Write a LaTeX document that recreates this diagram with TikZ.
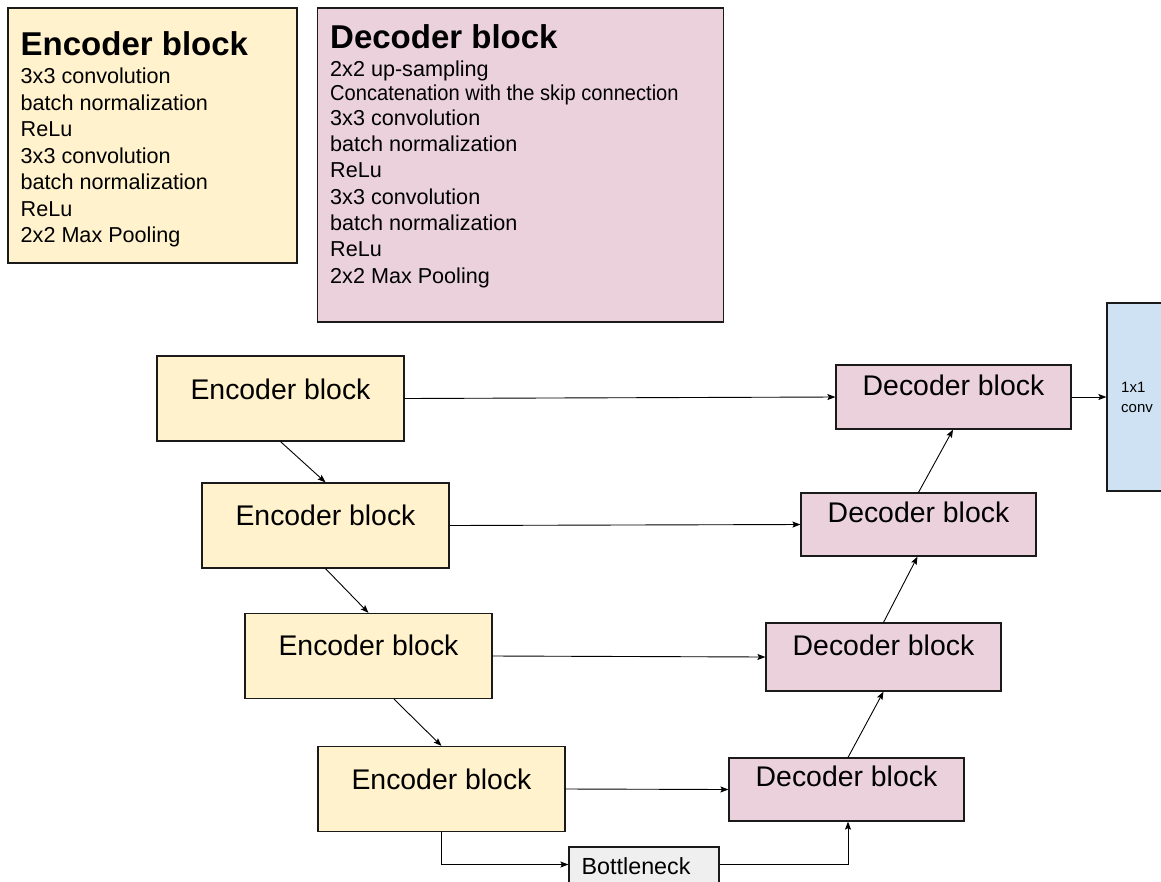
\documentclass[tikz,border=0pt]{standalone}
\usepackage{fontspec}
\setmainfont{Liberation Sans}
\usetikzlibrary{arrows.meta,calc}
\definecolor{encfill}{HTML}{FFF2CC}
\definecolor{decfill}{HTML}{EAD1DC}
\definecolor{convfill}{HTML}{CFE2F3}
\definecolor{neckfill}{HTML}{EFEFEF}
\definecolor{edge}{HTML}{1A1A1A}
\begin{document}
\begin{tikzpicture}[x=1pt,y=-1pt,
  box/.style={draw=edge, line width=1.2pt, inner sep=0pt},
  enc/.style={box, fill=encfill, minimum width=247pt, minimum height=85pt},
  dec/.style={box, fill=decfill, minimum width=235pt, minimum height=64pt},
  arr/.style={-{Stealth[length=8pt,width=6pt,inset=1.5pt]}, line width=0.9pt},
  blocklabel/.style={font=\fontsize{28.4}{34}\selectfont, inner sep=0pt, anchor=base},
  legtitle/.style={font=\fontsize{33}{40}\selectfont\bfseries, inner sep=0pt, anchor=base west},
  legline/.style={font=\fontsize{21.6}{26}\selectfont, inner sep=0pt, anchor=base west},
  smalltext/.style={font=\fontsize{15}{18}\selectfont, inner sep=0pt, anchor=base west}
]
% canvas
\clip (0,0) rectangle (1161,881);
\fill[white] (0,0) rectangle (1161,881);

% legend: encoder block contents
\node[box, fill=encfill, minimum width=289pt, minimum height=255pt] (enclegend) at (152.5,135.5) {};
\node[legtitle] (enctitle) at (20.5,55) {Encoder block};
\foreach \yy/\t [count=\i] in {83.3/3x3 convolution, 110.7/batch normalization, 136.7/ReLu,
    163.3/3x3 convolution, 189.3/batch normalization, 216/ReLu, 242.7/2x2 Max Pooling}
  \node[legline] (encline\i) at (20.5,\yy) {\t};

% legend: decoder block contents
\node[box, fill=decfill, minimum width=406pt, minimum height=314pt] (declegend) at (520.5,165) {};
\node[legtitle] (dectitle) at (330,48.3) {Decoder block};
\foreach \yy/\t [count=\i] in {76/2x2 up-sampling, 100/{\scalebox{0.93}[1]{Concatenation with the skip connection}},
    125.5/3x3 convolution, 151.7/batch normalization, 177.7/ReLu, 204.3/3x3 convolution,
    230.3/batch normalization, 256.7/ReLu, 283.3/2x2 Max Pooling}
  \node[legline] (decline\i) at (330,\yy) {\t};

% encoder path
\node[enc] (e1) at (280.5,398.5) {};
\node[enc] (e2) at (325.5,525.5) {};
\node[enc] (e3) at (368.5,656) {};
\node[enc] (e4) at (441.5,789) {};
\node[blocklabel] (e1t) at ($(e1.north)+(0,44)$) {Encoder block};
\node[blocklabel] (e2t) at ($(e2.north)+(0,43)$) {Encoder block};
\node[blocklabel] (e3t) at ($(e3.north)+(0,43)$) {Encoder block};
\node[blocklabel] (e4t) at ($(e4.north)+(0,44)$) {Encoder block};

% decoder path
\node[dec] (d1) at (953.5,397) {};
\node[dec, minimum height=63pt] (d2) at (918.5,524.5) {};
\node[dec, minimum height=68pt] (d3) at (883.5,657) {};
\node[dec, minimum height=63pt] (d4) at (846.5,789.5) {};
\node[blocklabel] (d1t) at ($(d1.north)+(0,30.7)$) {Decoder block};
\node[blocklabel] (d2t) at ($(d2.north)+(0,30.3)$) {Decoder block};
\node[blocklabel] (d3t) at ($(d3.north)+(0,32.7)$) {Decoder block};
\node[blocklabel] (d4t) at ($(d4.north)+(0,28.7)$) {Decoder block};

% bottleneck (runs past the lower edge) and output convolution (past the right edge)
\node[box, fill=neckfill, minimum width=150pt, minimum height=44pt] (neck) at (644,869) {};
\node[legline, font=\fontsize{23.3}{28}\selectfont] (neckt) at (581.5,874) {Bottleneck};
\node[box, fill=convfill, minimum width=70pt, minimum height=188pt] (conv) at (1142,397) {};
\node[smalltext] (convt1) at (1121,392.7) {1x1};
\node[smalltext] (convt2) at (1121,412.7) {conv};

% contracting path
\draw[arr] (e1.south) -- (e2.north);
\draw[arr] (e2.south) -- (e3.north);
\draw[arr] ($(e3.south)+(25.5,0)$) -- (e4.north);
\draw[arr] (e4.south) |- ($(neck.west)+(0,-4.5)$);

% skip connections
\draw[arr] (e1.east) -- (d1.west);
\draw[arr] (e2.east) -- (d2.west);
\draw[arr] (e3.east) -- (d3.west);
\draw[arr] (e4.east) -- (d4.west);

% expanding path
\draw[arr] ($(neck.east)+(0,-4.5)$) -| ($(d4.south)+(1.5,0)$);
\draw[arr] ($(d4.north)+(1.5,0)$) -- (d3.south);
\draw[arr] (d3.north) -- ($(d2.south)+(-1,0)$);
\draw[arr] (d2.north) -- ($(d1.south)+(-0.5,0)$);
\draw[arr] (d1.east) -- (conv.west);
\end{tikzpicture}
\end{document}
